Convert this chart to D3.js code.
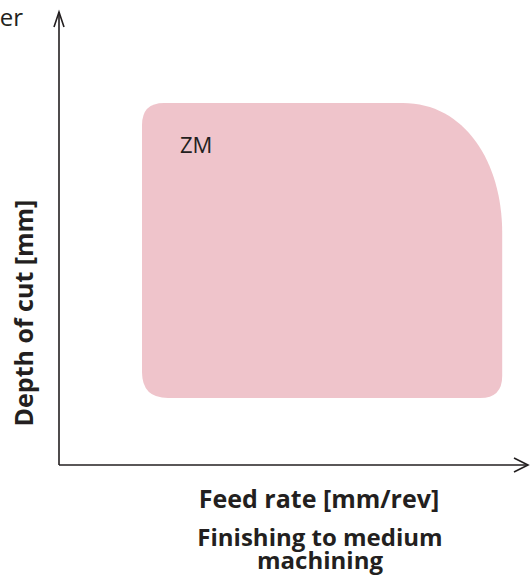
<!DOCTYPE html>
<html>
<head>
<meta charset="utf-8">
<script src="https://cdn.jsdelivr.net/npm/d3@7"></script>
<style>
  html, body { margin: 0; padding: 0; background: #fff; }
  svg { display: block; }
  text { font-family: "Open Sans", "Noto Sans", sans-serif; fill: #231f20; }
</style>
</head>
<body>
<svg id="chart" width="530" height="579"></svg>
<script>
// Application range of the ZM chipbreaker (relative units on both axes)
const regionName = "ZM";
const feedRange = [17.7, 94.5];      // feed rate min / max
const depthRange = [14.8, 79.9];     // depth of cut min / max
const feedShoulder = 73.3;           // feed where the upper-right rounding begins
const depthShoulder = 51.2;          // depth where the upper-right rounding ends
const axisTitles = ["Feed rate [mm/rev]", "Depth of cut [mm]"];
const subtitleLines = ["Finishing to medium", "machining"];
const headerText = "Chipbreaker";

const svg = d3.select("#chart");
const ink = "#231f20";

const x = d3.scaleLinear().domain([0, 100]).range([59, 528]);
const y = d3.scaleLinear().domain([0, 100]).range([465, 12]);

// Region shape
const x0 = x(feedRange[0]), x1 = x(feedRange[1]);
const yb = y(depthRange[0]), yt = y(depthRange[1]);
const xs = x(feedShoulder), ys = y(depthShoulder);
const rTL = 22, rBL = 26, rBR = 22;

const p = d3.path();
p.moveTo(x0 + rTL, yt);
p.lineTo(xs, yt);
p.bezierCurveTo(xs + (x1 - xs) * 0.62, yt, x1, yt + (ys - yt) * 0.45, x1, ys);
p.lineTo(x1, yb - rBR);
p.quadraticCurveTo(x1, yb, x1 - rBR, yb);
p.lineTo(x0 + rBL, yb);
p.quadraticCurveTo(x0, yb, x0, yb - rBL);
p.lineTo(x0, yt + rTL);
p.quadraticCurveTo(x0, yt, x0 + rTL, yt);
p.closePath();

svg.append("path")
  .attr("d", p.toString())
  .attr("fill", "#efc4cb");

svg.append("text")
  .attr("x", 180)
  .attr("y", 153)
  .attr("font-size", 22)
  .text(regionName);

// Axes with arrow heads
const axisG = svg.append("g")
  .attr("stroke", ink)
  .attr("stroke-width", 1.6)
  .attr("fill", "none");

axisG.append("line")
  .attr("x1", x(0)).attr("y1", y(0))
  .attr("x2", x(100)).attr("y2", y(0));
axisG.append("line")
  .attr("x1", x(0)).attr("y1", y(0))
  .attr("x2", x(0)).attr("y2", y(100));

axisG.append("path")
  .attr("d", `M${x(100) - 14},${y(0) - 7} L${x(100)},${y(0)} L${x(100) - 14},${y(0) + 7}`);
axisG.append("path")
  .attr("d", `M${x(0) - 5},${y(100) + 15} L${x(0)},${y(100)} L${x(0) + 5},${y(100) + 15}`);

// Titles
svg.append("text")
  .attr("x", 319).attr("y", 508)
  .attr("text-anchor", "middle")
  .attr("font-size", 25).attr("font-weight", "bold")
  .text(axisTitles[0]);

svg.append("text")
  .attr("transform", "translate(33,313) rotate(-90)")
  .attr("text-anchor", "middle")
  .attr("font-size", 25).attr("font-weight", "bold")
  .text(axisTitles[1]);

// Two-line subtitle as one text block
const sub = svg.append("text")
  .attr("text-anchor", "middle")
  .attr("font-size", 24).attr("font-weight", "bold");
sub.selectAll("tspan")
  .data(subtitleLines)
  .join("tspan")
  .attr("x", 320)
  .attr("y", (d, i) => 546 + i * 23)
  .text(d => d);

svg.append("text")
  .attr("x", 23).attr("y", 26)
  .attr("text-anchor", "end")
  .attr("font-size", 24)
  .text(headerText);
</script>
</body>
</html>
